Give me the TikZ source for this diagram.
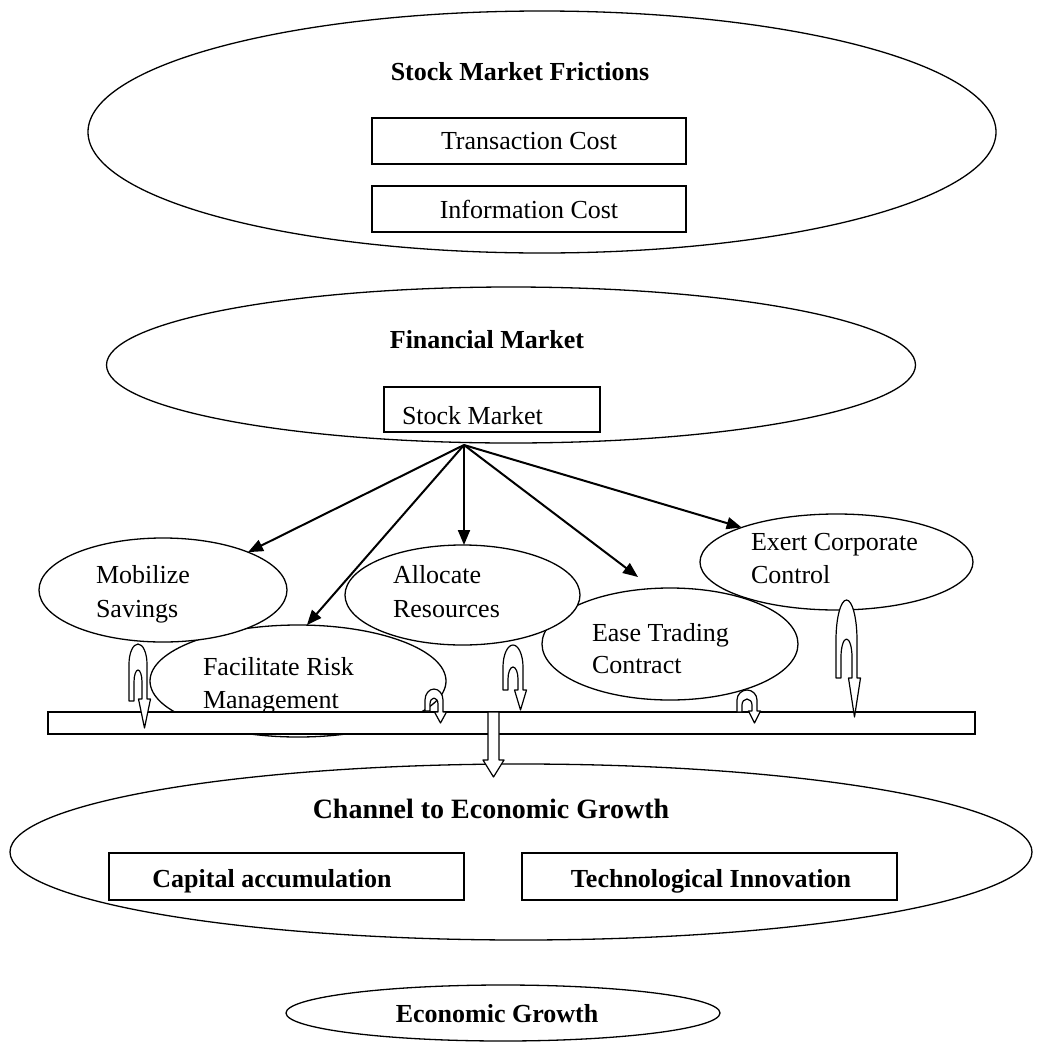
\documentclass[tikz,border=0pt]{standalone}
\usepackage{fontspec}
\setmainfont{Liberation Serif}
\usetikzlibrary{shapes.geometric,arrows.meta}

% Hollow U-turn block arrow:
% #1 outer left x, #2 outer width, #3 outer top, #4 outer arch depth,
% #5 inner top, #6 inner arch depth, #7 left leg end, #8 head base, #9 tip
\newcommand{\uturnarrow}[9]{%
  \draw[uarrow]
    (#1,#7) -- (#1,{#3+#4})
    .. controls (#1,{#3+0.448*#4}) and ({#1+0.224*#2},#3) .. ({#1+0.5*#2},#3)
    .. controls ({#1+0.776*#2},#3) and ({#1+#2},{#3+0.448*#4}) .. ({#1+#2},{#3+#4})
    -- ({#1+#2},#8) -- ({#1+#2+3.5},#8) -- ({#1+#2-2.5},#9) -- ({#1+#2-8.5},#8)
    -- ({#1+#2-5},#8) -- ({#1+#2-5},{#5+#6})
    .. controls ({#1+#2-5},{#5+0.448*#6}) and ({#1+0.5*#2+0.276*(#2-10)},#5) .. ({#1+0.5*#2},#5)
    .. controls ({#1+0.5*#2-0.276*(#2-10)},#5) and ({#1+5},{#5+0.448*#6}) .. ({#1+5},{#5+#6})
    -- ({#1+5},#7) -- cycle;
}

\begin{document}
\begin{tikzpicture}[x=1pt,y=-1pt,
  every node/.style={inner sep=0pt, outer sep=0pt},
  oval/.style={draw, ellipse, fill=white, line width=1.3pt},
  box/.style={draw, rectangle, fill=white, line width=1.3pt},
  lbl/.style={font=\fontsize{26}{30}\selectfont, anchor=base west},
  ttl/.style={font=\fontsize{26}{30}\selectfont\bfseries, anchor=base},
  link/.style={line width=2pt, -{Triangle[length=15pt,width=12pt]}},
  uarrow/.style={draw, fill=white, line width=1.2pt, line join=round},
]
\fill[white] (0,0) rectangle (1039,1042);
\useasboundingbox (0,0) rectangle (1039,1042);

% Stock market frictions
\node[oval, minimum width=908, minimum height=242] (fric) at (542,132) {};
\node[ttl] (fricT) at (520,80) {Stock Market Frictions};
\node[box, minimum width=314, minimum height=46, font=\fontsize{26}{30}\selectfont] (tc) at (529,141) {Transaction Cost};
\node[box, minimum width=314, minimum height=46, font=\fontsize{26}{30}\selectfont] (ic) at (529,209) {Information Cost};

% Financial market
\node[oval, minimum width=809, minimum height=156] (fin) at (511,365) {};
\node[ttl] (finT) at (487,348) {Financial Market};
\node[box, minimum width=216, minimum height=45] (sm) at (492,409.5) {};
\node[lbl] (smT) at (402,424) {Stock Market};
\coordinate (hub) at (464,445);

% Functions of the stock market
\node[oval, minimum width=296, minimum height=112] (fac) at (298,681) {};
\node[lbl] (facA) at (203,675) {Facilitate Risk};
\node[lbl] (facB) at (203,708) {Management};
\node[oval, minimum width=256, minimum height=112] (ease) at (670,644) {};
\node[lbl] (easeA) at (592,641) {Ease Trading};
\node[lbl] (easeB) at (592,673) {Contract};
\node[oval, minimum width=248, minimum height=104] (mob) at (163,590) {};
\node[lbl] (mobA) at (96,583) {Mobilize};
\node[lbl] (mobB) at (96,617) {Savings};
\node[oval, minimum width=235, minimum height=100] (alloc) at (462.5,595) {};
\node[lbl] (allocA) at (393,583) {Allocate};
\node[lbl] (allocB) at (393,617) {Resources};
\node[oval, minimum width=273, minimum height=96] (exert) at (836.5,562) {};
\node[lbl] (exertA) at (751,550) {Exert Corporate};
\node[lbl] (exertB) at (751,583) {Control};

% Collecting bar
\node[box, minimum width=927, minimum height=22] (bar) at (511.5,723) {};

% U-turn arrows into the bar
\uturnarrow{129}{18}{644}{20}{670}{12}{701}{699}{728}
\uturnarrow{425}{18}{689}{11}{698}{6}{711}{712}{723}
\uturnarrow{503}{20}{645}{22}{667}{12}{690}{690}{710}
\uturnarrow{737}{20}{690}{10}{699}{6}{712}{711}{723}
\uturnarrow{836}{21}{600}{40}{639}{18}{678}{678}{717}

% Channel to economic growth
\node[oval, minimum width=1022, minimum height=176] (chan) at (521,852) {};
\node[ttl, font=\fontsize{28}{32}\selectfont\bfseries] (chanT) at (491,818) {Channel to Economic Growth};
\node[box, minimum width=355, minimum height=47] (cap) at (286.5,876.5) {};
\node[ttl] (capT) at (272,887) {Capital accumulation};
\node[box, minimum width=375, minimum height=47] (tech) at (709.5,876.5) {};
\node[ttl] (techT) at (711,887) {Technological Innovation};

% Block arrow from the bar down to the channel
\draw[uarrow] (488,712) -- (488,760) -- (483,760) -- (493.5,777) -- (504,760)
  -- (499,760) -- (499,712) -- cycle;

% Economic growth
\node[oval, minimum width=434, minimum height=56] (eg) at (503,1013) {};
\node[ttl] (egT) at (497,1022) {Economic Growth};

% Arrows from the stock market to its functions
\coordinate (easeTip) at (638,577);
\draw[link] (hub) -- (mob.24);
\draw[link] (hub) -- (fac.81);
\draw[link] (hub) -- (hub |- alloc.north);
\draw[link] (hub) -- (easeTip);
\draw[link] (hub) -- (exert.160);
\end{tikzpicture}
\end{document}
